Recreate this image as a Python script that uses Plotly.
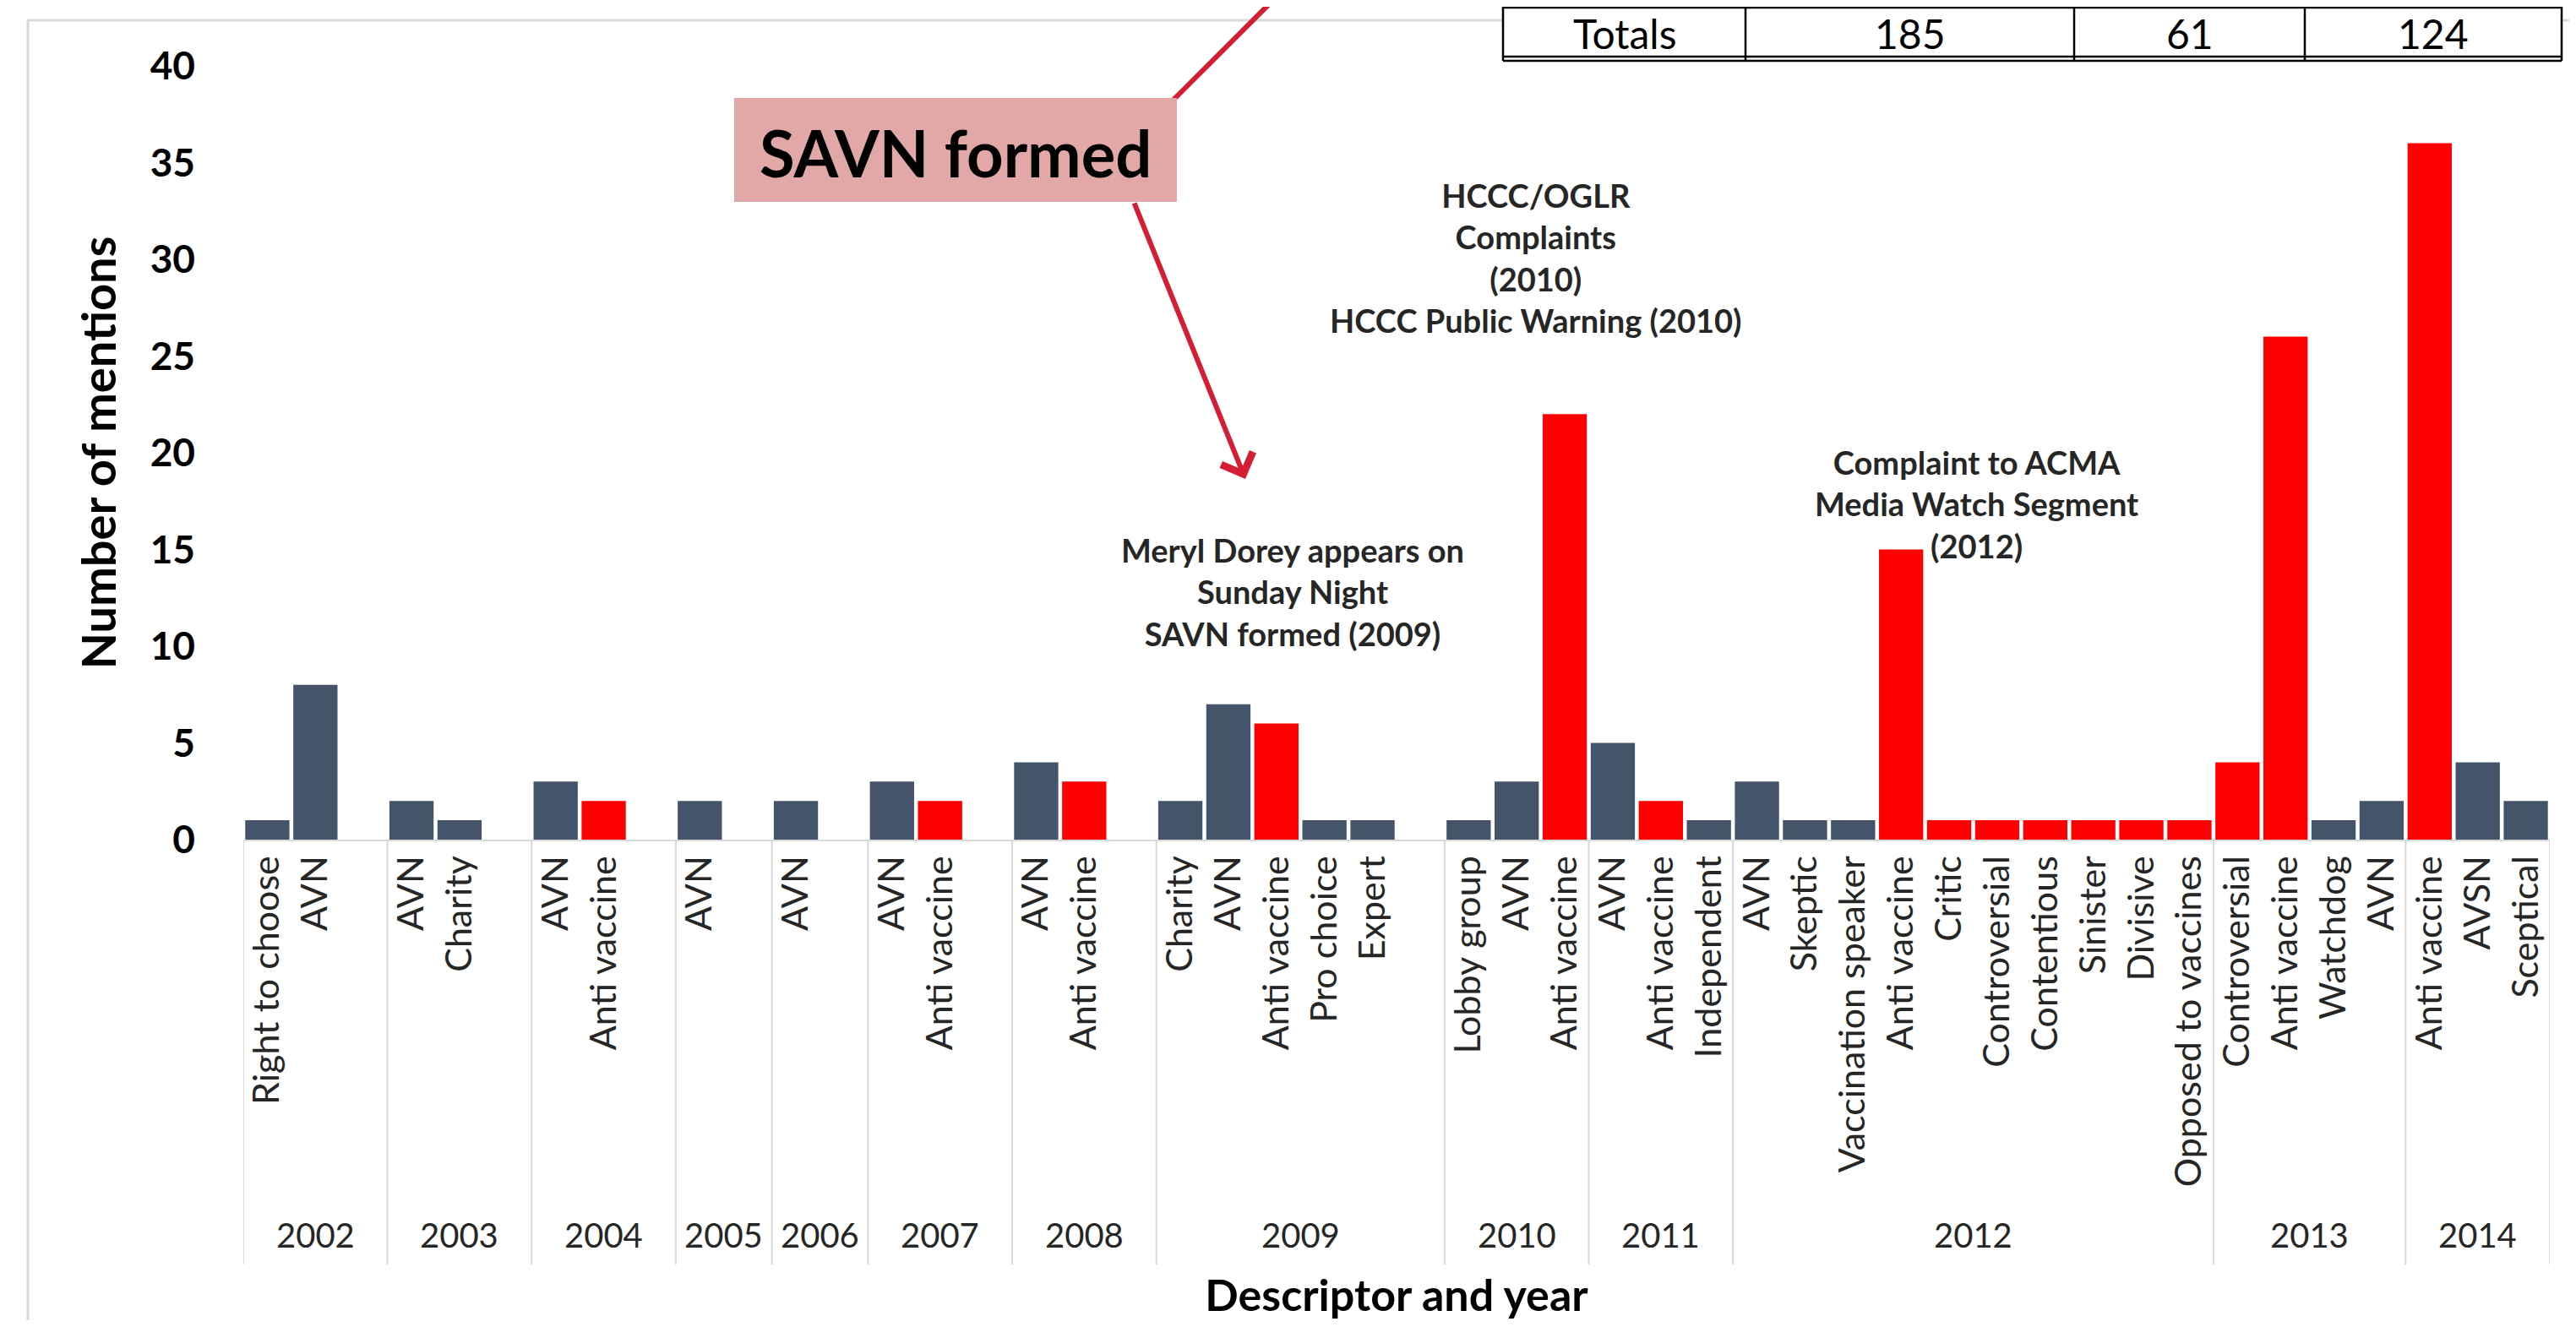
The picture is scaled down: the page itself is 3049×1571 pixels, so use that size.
import plotly.graph_objects as go

# ---------------- data ----------------
years = ["2002", "2002", "2002",
         "2003", "2003", "2003",
         "2004", "2004", "2004",
         "2005", "2005",
         "2006", "2006",
         "2007", "2007", "2007",
         "2008", "2008", "2008",
         "2009", "2009", "2009", "2009", "2009", "2009",
         "2010", "2010", "2010",
         "2011", "2011", "2011",
         "2012", "2012", "2012", "2012", "2012", "2012", "2012", "2012", "2012", "2012",
         "2013", "2013", "2013", "2013",
         "2014", "2014", "2014"]
descriptors = ["Right to choose", "AVN", "",
               "AVN", "Charity", "",
               "AVN", "Anti vaccine", "",
               "AVN", "",
               "AVN", "",
               "AVN", "Anti vaccine", "",
               "AVN", "Anti vaccine", "",
               "Charity", "AVN", "Anti vaccine", "Pro choice", "Expert", "",
               "Lobby group", "AVN", "Anti vaccine",
               "AVN", "Anti vaccine", "Independent",
               "AVN", "Skeptic", "Vaccination speaker", "Anti vaccine", "Critic",
               "Controversial", "Contentious", "Sinister", "Divisive", "Opposed to vaccines",
               "Controversial", "Anti vaccine", "Watchdog", "AVN",
               "Anti vaccine", "AVSN", "Sceptical"]
mentions = [1, 8, None,
            2, 1, None,
            3, 2, None,
            2, None,
            2, None,
            3, 2, None,
            4, 3, None,
            2, 7, 6, 1, 1, None,
            1, 3, 22,
            5, 2, 1,
            3, 1, 1, 15, 1, 1, 1, 1, 1, 1,
            4, 26, 1, 2,
            36, 4, 2]
tone = ["n", "n", "",
        "n", "n", "",
        "n", "r", "",
        "n", "",
        "n", "",
        "n", "r", "",
        "n", "r", "",
        "n", "n", "r", "n", "n", "",
        "n", "n", "r",
        "n", "r", "n",
        "n", "n", "n", "r", "r", "r", "r", "r", "r", "r",
        "r", "r", "n", "n",
        "r", "n", "n"]

table_cells = ["Totals", "185", "61", "124"]

annotation_texts = {
    "hccc": "HCCC/OGLR<br>Complaints<br>(2010)<br>HCCC Public Warning (2010)",
    "meryl": "Meryl Dorey appears on<br>Sunday Night<br>SAVN formed (2009)",
    "acma": "Complaint to ACMA<br>Media Watch Segment<br>(2012)",
    "box": "SAVN formed",
}

# ---------------- layout helpers ----------------
# page body has an 8px margin; screen coords = figure coords + OFF
OFF = 8
SW, SH = 3049, 1571
W, H = SW - 2 * OFF, SH - 2 * OFF
PLOT_X0, PLOT_X1, PLOT_Y0, PLOT_Y1 = 288, 3018, 78, 994   # screen px of plot area
L, T = PLOT_X0 - OFF, PLOT_Y0 - OFF
R, B = W - (PLOT_X1 - OFF), H - (PLOT_Y1 - OFF)
PW, PH = W - L - R, H - T - B


def px(xs):
    return (xs - PLOT_X0) / PW


def py(ys):
    return (PLOT_Y1 - ys) / PH


FONT = "Lato, 'Open Sans', sans-serif"
DARK = "#44546A"
RED = "#FF0000"
ARROW = "#D41E34"
GRAY = "#D9D9D9"
TXT = "#262626"

idx = list(range(len(mentions)))

fig = go.Figure()
for key, color in (("n", DARK), ("r", RED)):
    xs = [i for i in idx if tone[i] == key]
    ys = [mentions[i] for i in idx if tone[i] == key]
    fig.add_trace(go.Bar(x=xs, y=ys, marker=dict(color=color, line=dict(width=0)),
                         showlegend=False, hoverinfo="y"))

# year groups
groups = []
for i, yr in enumerate(years):
    if not groups or groups[-1][0] != yr:
        groups.append([yr, i, i])
    else:
        groups[-1][2] = i

shapes = []
annotations = []

# dividers between year groups
bounds = [g[1] - 0.5 for g in groups] + [groups[-1][2] + 0.5]
for bx in bounds:
    shapes.append(dict(type="line", xref="x", yref="paper", x0=bx, x1=bx,
                       y0=0, y1=py(1497), line=dict(color=GRAY, width=2), layer="below"))

for yr, a, b in groups:
    annotations.append(dict(x=(a + b) / 2, y=py(1462), xref="x", yref="paper",
                            text=yr, showarrow=False, xanchor="center", yanchor="middle",
                            font=dict(family=FONT, size=40, color=TXT)))

# outer frame
shapes.append(dict(type="rect", xref="paper", yref="paper",
                   x0=px(33), x1=px(3150), y0=py(24), y1=py(1700),
                   line=dict(color=GRAY, width=3), fillcolor="rgba(0,0,0,0)", layer="above"))

# table (top right)
tx = [1779, 2066, 2455, 2728, 3032]
shapes.append(dict(type="rect", xref="paper", yref="paper",
                   x0=px(tx[0]), x1=px(tx[-1]), y0=py(73), y1=py(-20),
                   line=dict(width=0), fillcolor="white", layer="above"))
for x_ in tx:
    shapes.append(dict(type="line", xref="paper", yref="paper", x0=px(x_), x1=px(x_),
                       y0=py(72), y1=py(-20), line=dict(color="black", width=2.5), layer="above"))
for y_ in (4, 9, 67, 72):
    shapes.append(dict(type="line", xref="paper", yref="paper", x0=px(tx[0]), x1=px(tx[-1]),
                       y0=py(y_), y1=py(y_), line=dict(color="black", width=2.5), layer="above"))
for k, txt in enumerate(table_cells):
    annotations.append(dict(x=px((tx[k] + tx[k + 1]) / 2), y=py(39), xref="paper", yref="paper",
                            text=txt, showarrow=False, xanchor="center", yanchor="middle",
                            font=dict(family=FONT, size=48, color="black")))

# arrows and SAVN box
shapes.append(dict(type="line", xref="paper", yref="paper",
                   x0=px(1527), y0=py(-20), x1=px(1389), y1=py(118),
                   line=dict(color=ARROW, width=6), layer="above"))
annotations.append(dict(x=px(1474), y=py(567), xref="paper", yref="paper",
                        ax=1342 - 1474, ay=239 - 567, axref="pixel", ayref="pixel",
                        text="", showarrow=True, arrowhead=4, arrowsize=1.3,
                        arrowwidth=6, arrowcolor=ARROW))
shapes.append(dict(type="rect", xref="paper", yref="paper",
                   x0=px(869), x1=px(1393), y0=py(239), y1=py(116),
                   line=dict(width=0), fillcolor="#E2A8A7", layer="above"))
annotations.append(dict(x=px(1131), y=py(180), xref="paper", yref="paper",
                        text="<b>" + annotation_texts["box"] + "</b>", showarrow=False,
                        xanchor="center", yanchor="middle",
                        font=dict(family=FONT, size=76, color="black")))

# event notes
for key, cx, cy in (("hccc", 1818, 305), ("meryl", 1530, 700), ("acma", 2339, 596)):
    annotations.append(dict(x=px(cx), y=py(cy), xref="paper", yref="paper",
                            text="<b>" + annotation_texts[key] + "</b>", showarrow=False,
                            align="center", xanchor="center", yanchor="middle",
                            font=dict(family=FONT, size=38, color=TXT)))

fig.update_layout(
    width=W, height=H,
    margin=dict(l=L, r=R, t=T, b=B, autoexpand=False),
    paper_bgcolor="white", plot_bgcolor="white",
    barmode="overlay", bargap=0.08,
    font=dict(family=FONT, color=TXT),
    shapes=shapes, annotations=annotations,
    xaxis=dict(
        range=[-0.5, len(mentions) - 0.5],
        tickmode="array", tickvals=idx, ticktext=descriptors,
        tickangle=-90, tickfont=dict(family=FONT, size=43, color=TXT),
        showgrid=False, zeroline=False, showline=True, linecolor=GRAY, linewidth=2,
        ticks="", automargin=False, fixedrange=True,
        title=dict(text="<b>Descriptor and year</b>", standoff=125,
                   font=dict(family=FONT, size=52, color="black")),
    ),
    yaxis=dict(
        range=[0, 40], tickmode="array", tickvals=[0, 5, 10, 15, 20, 25, 30, 35, 40],
        tickfont=dict(family=FONT, size=46, color="black", weight="bold"),
        showgrid=False, zeroline=False, showline=False, ticks="",
        ticklabelstandoff=56, automargin=False,
        title=dict(text="<b>Number of mentions</b>", standoff=22,
                   font=dict(family=FONT, size=56, color="black")),
    ),
)

fig.write_html("out.html")
